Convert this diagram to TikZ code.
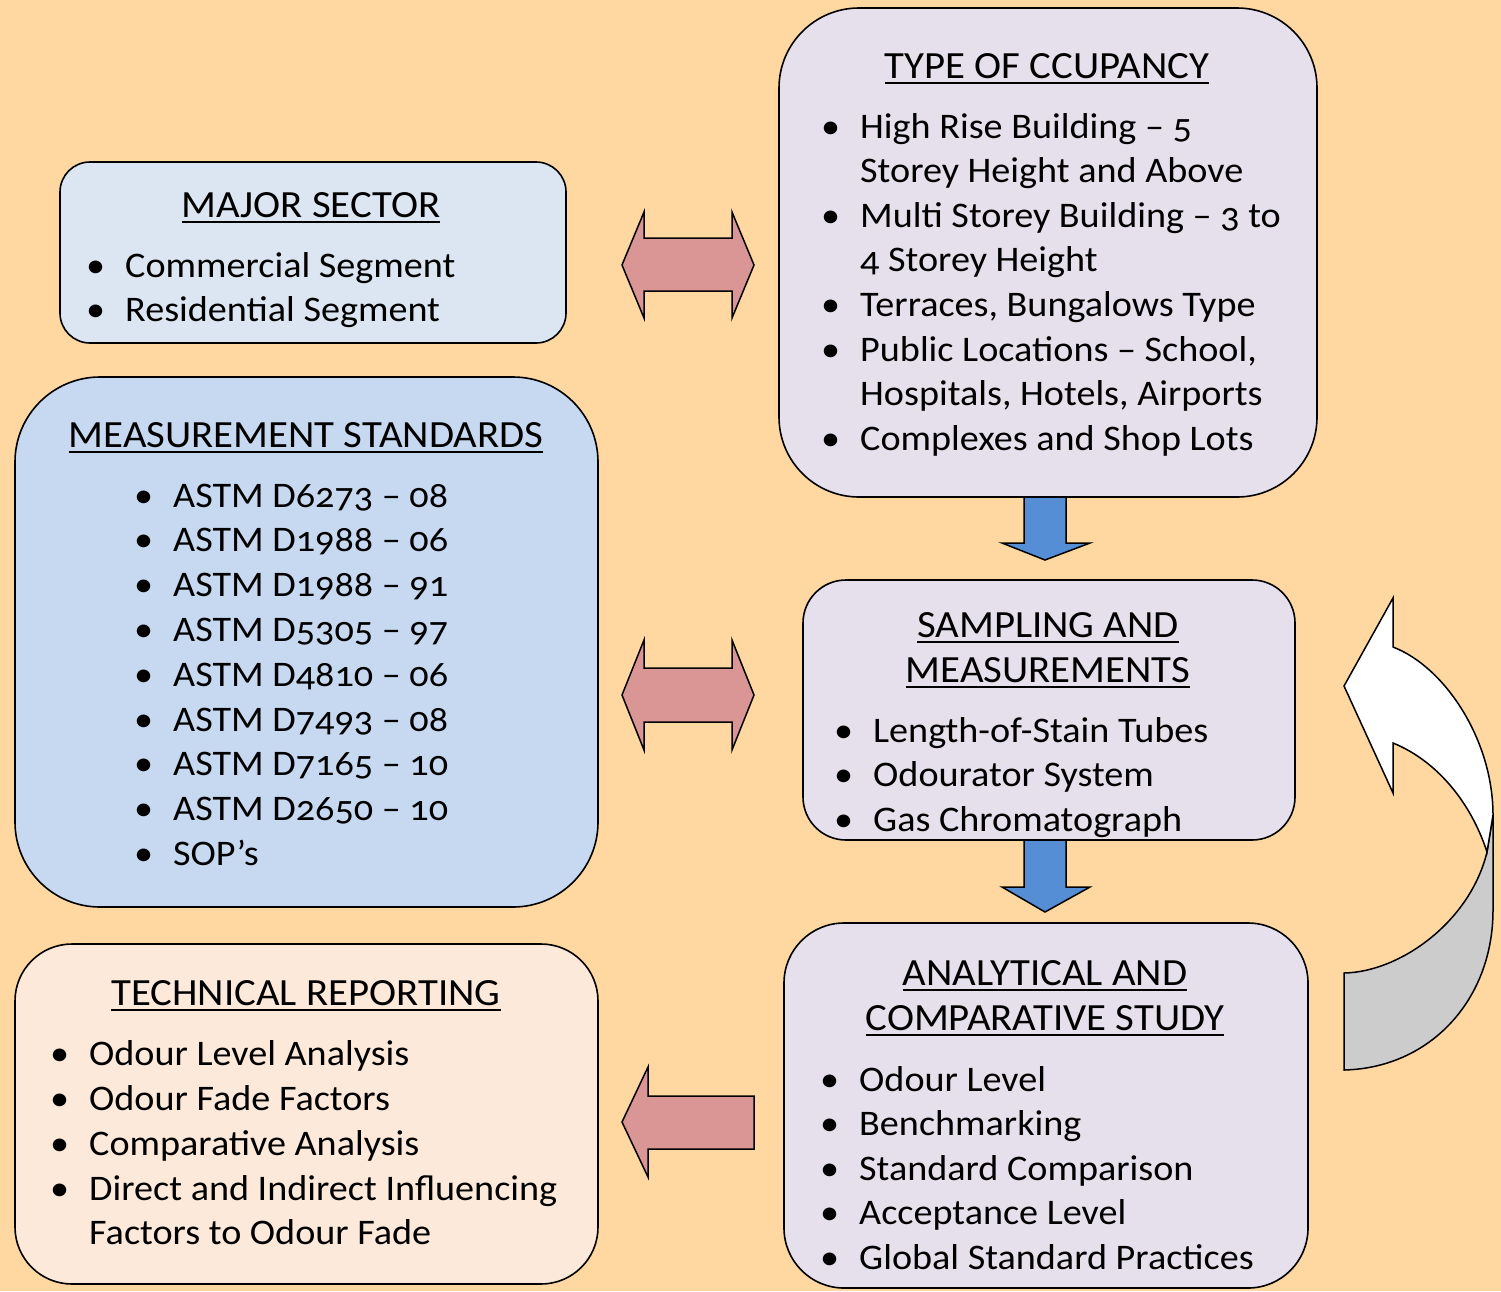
\documentclass[tikz,border=0pt]{standalone}
\usepackage{fontspec}
\setmainfont{Carlito}[Numbers=OldStyle,FakeStretch=1.06]
\definecolor{bgc}{HTML}{FFD7A0}
\definecolor{msc}{HTML}{DCE6F2}
\definecolor{stc}{HTML}{C6D9F1}
\definecolor{lvc}{HTML}{E6E0EC}
\definecolor{tec}{HTML}{FDE9D9}
\definecolor{pkc}{HTML}{D99694}
\definecolor{blc}{HTML}{558ED5}
\definecolor{gyc}{HTML}{CCCCCC}
\newcommand\itmfont{\fontsize{36}{44}\selectfont}
\newcommand\ttlfont{\fontsize{38.5}{44}\selectfont}
\newcommand\myul[1]{\setbox0\hbox{#1}\rlap{\rule[-6pt]{\wd0}{2pt}}\box0}
\newcommand\bul{\llap{\textbullet\hspace{20pt}}}
\tikzset{
  box/.style={draw=black, line width=1.6pt, inner sep=0pt},
  ttl/.style={anchor=base, inner sep=0pt, font=\ttlfont},
  itm/.style={anchor=base west, inner sep=0pt, font=\itmfont},
  blk/.style={draw=black, line width=1.5pt, line join=miter},
}
\begin{document}
\begin{tikzpicture}[x=1pt,y=-1pt]
\fill[bgc] (0,0) rectangle (1501,1291);
\useasboundingbox (0,0) rectangle (1501,1291);

% boxes
\node[box, fill=msc, minimum width=506pt, minimum height=181pt, rounded corners=30pt] (ms) at (313,252.5) {};
\node[box, fill=lvc, minimum width=538pt, minimum height=489pt, rounded corners=80pt] (ty) at (1048,252.5) {};
\node[box, fill=stc, minimum width=583pt, minimum height=530pt, rounded corners=85pt] (st) at (306.5,642) {};
\node[box, fill=lvc, minimum width=492pt, minimum height=260pt, rounded corners=43pt] (sa) at (1049,710) {};
\node[box, fill=lvc, minimum width=524pt, minimum height=365pt, rounded corners=60pt] (an) at (1046,1105.5) {};
\node[box, fill=tec, minimum width=583pt, minimum height=340pt, rounded corners=57pt] (te) at (306.5,1114) {};

% block arrows
\draw[blk, fill=pkc] (622,265) -- (644,212) -- (644,238) -- (732,238) -- (732,212) -- (754,265) -- (732,318) -- (732,291) -- (644,291) -- (644,318) -- cycle;
\draw[blk, fill=pkc] (622,695) -- (644,640) -- (644,668) -- (732,668) -- (732,640) -- (754,695) -- (732,750) -- (732,722) -- (644,722) -- (644,750) -- cycle;
\draw[blk, fill=pkc] (622,1122) -- (648,1067) -- (648,1096) -- (754,1096) -- (754,1149) -- (648,1149) -- (648,1177) -- cycle;
\draw[blk, fill=blc] (1024,497) -- (1066,497) -- (1066,543) -- (1090,543) -- (1045,560) -- (1002,543) -- (1024,543) -- cycle;
\draw[blk, fill=blc] (1024,840) -- (1066,840) -- (1066,887) -- (1090,887) -- (1045,912) -- (1002,887) -- (1024,887) -- cycle;

% curved arrow
\draw[blk, fill=gyc] (1487,852) -- (1493,815) -- (1493,910) .. controls (1493,1000) and (1430,1068) .. (1344,1070) -- (1344,973) .. controls (1400,972) and (1470,922) .. (1487,852) -- cycle;
\draw[blk, fill=white] (1344,686) -- (1393,598) -- (1393,647) .. controls (1445,667) and (1493,740) .. (1493,815) -- (1487,852) .. controls (1470,800) and (1435,760) .. (1393,743) -- (1393,793) -- cycle;

% MAJOR SECTOR
\node[ttl] (ms-t) at (311,217) {\myul{MAJOR SECTOR}};
\node[itm] (ms-1) at (125,277) {\bul Commercial Segment};
\node[itm] (ms-2) at (125,321) {\bul Residential Segment};

% TYPE OF CCUPANCY
\node[ttl] (ty-t) at (1047,78) {\myul{TYPE OF CCUPANCY}};
\node[itm] (ty-1) at (860,138) {\bul High Rise Building – 5};
\node[itm] (ty-1b) at (860,182.6) {Storey Height and Above};
\node[itm] (ty-2) at (860,227.2) {\bul Multi Storey Building – 3 to};
\node[itm] (ty-2b) at (860,271.8) {4 Storey Height};
\node[itm] (ty-3) at (860,316.4) {\bul Terraces, Bungalows Type};
\node[itm] (ty-4) at (860,361) {\bul Public Locations – School,};
\node[itm] (ty-4b) at (860,405.6) {Hospitals, Hotels, Airports};
\node[itm] (ty-5) at (860,450.2) {\bul Complexes and Shop Lots};

% MEASUREMENT STANDARDS
\node[ttl] (st-t) at (306,447) {\myul{MEASUREMENT STANDARDS}};
\node[itm] (st-1) at (173,507) {\bul ASTM D6273 – 08};
\node[itm] (st-2) at (173,551.8) {\bul ASTM D1988 – 06};
\node[itm] (st-3) at (173,596.6) {\bul ASTM D1988 – 91};
\node[itm] (st-4) at (173,641.4) {\bul ASTM D5305 – 97};
\node[itm] (st-5) at (173,686.2) {\bul ASTM D4810 – 06};
\node[itm] (st-6) at (173,731) {\bul ASTM D7493 – 08};
\node[itm] (st-7) at (173,775.8) {\bul ASTM D7165 – 10};
\node[itm] (st-8) at (173,820.6) {\bul ASTM D2650 – 10};
\node[itm] (st-9) at (173,865.4) {\bul SOP’s};

% SAMPLING AND MEASUREMENTS
\node[ttl] (sa-t1) at (1048,637) {\myul{SAMPLING AND}};
\node[ttl] (sa-t2) at (1048,682) {\myul{MEASUREMENTS}};
\node[itm] (sa-1) at (873,742) {\bul Length-of-Stain Tubes};
\node[itm] (sa-2) at (873,786.5) {\bul Odourator System};
\node[itm] (sa-3) at (873,831) {\bul Gas Chromatograph};

% ANALYTICAL AND COMPARATIVE STUDY
\node[ttl] (an-t1) at (1045,985) {\myul{ANALYTICAL AND}};
\node[ttl] (an-t2) at (1045,1030) {\myul{COMPARATIVE STUDY}};
\node[itm] (an-1) at (859,1091) {\bul Odour Level};
\node[itm] (an-2) at (859,1135.5) {\bul Benchmarking};
\node[itm] (an-3) at (859,1180.5) {\bul Standard Comparison};
\node[itm] (an-4) at (859,1224.5) {\bul Acceptance Level};
\node[itm] (an-5) at (859,1269) {\bul Global Standard Practices};

% TECHNICAL REPORTING
\node[ttl] (te-t) at (306,1005) {\myul{TECHNICAL REPORTING}};
\node[itm] (te-1) at (89,1065) {\bul Odour Level Analysis};
\node[itm] (te-2) at (89,1110) {\bul Odour Fade Factors};
\node[itm] (te-3) at (89,1155) {\bul Comparative Analysis};
\node[itm] (te-4) at (89,1200) {\bul Direct and Indirect Influencing};
\node[itm] (te-4b) at (89,1244) {Factors to Odour Fade};
\end{tikzpicture}
\end{document}
